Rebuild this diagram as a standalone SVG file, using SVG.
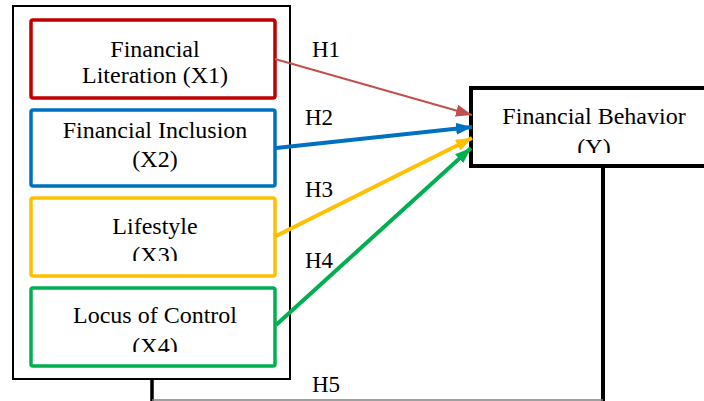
<svg xmlns="http://www.w3.org/2000/svg" width="704" height="401" viewBox="0 0 704 401">
<style>
  .t { font-family: "Liberation Serif", "Times New Roman", serif; font-size: 24px; fill: #000; text-anchor: middle; }
  .h { font-family: "Liberation Serif", "Times New Roman", serif; font-size: 23px; fill: #000; }
  .box { fill: #fff; stroke-width: 3.5; }
</style>
<defs>
  <marker id="mR" markerUnits="userSpaceOnUse" viewBox="0 0 16 12" refX="16" refY="6" markerWidth="16" markerHeight="12" orient="auto"><path d="M0,0 L16,6 L0,12 Z" fill="#C0504D"/></marker>
  <marker id="mB" markerUnits="userSpaceOnUse" viewBox="0 0 16 12" refX="16" refY="6" markerWidth="16" markerHeight="12" orient="auto"><path d="M0,0 L16,6 L0,12 Z" fill="#0070C0"/></marker>
  <marker id="mY" markerUnits="userSpaceOnUse" viewBox="0 0 16 12" refX="16" refY="6" markerWidth="16" markerHeight="12" orient="auto"><path d="M0,0 L16,6 L0,12 Z" fill="#FFC000"/></marker>
  <marker id="mG" markerUnits="userSpaceOnUse" viewBox="0 0 16 12" refX="16" refY="6" markerWidth="16" markerHeight="12" orient="auto"><path d="M0,0 L16,6 L0,12 Z" fill="#00B050"/></marker>
  <clipPath id="c3"><rect x="31" y="197" width="244" height="64"/></clipPath>
  <clipPath id="c4"><rect x="31" y="288" width="244" height="64"/></clipPath>
  <clipPath id="cY"><rect x="471" y="88" width="240" height="65"/></clipPath>
</defs>

<g id="outer">
  <rect x="13" y="6" width="277" height="373" fill="#fff" stroke="#000" stroke-width="2"/>
</g>

<g id="x1">
  <rect class="box" x="31" y="20" width="244" height="78" rx="2" stroke="#C00000"/>
  <text class="t" x="155" y="57">Financial</text>
  <text class="t" x="155" y="83">Literation (X1)</text>
</g>
<g id="x2">
  <rect class="box" x="31" y="110" width="244" height="76" rx="2" stroke="#0070C0"/>
  <text class="t" x="155" y="138">Financial Inclusion</text>
  <text class="t" x="155" y="167">(X2)</text>
</g>
<g id="x3">
  <rect class="box" x="31" y="198" width="244" height="78" rx="2" stroke="#FFC000"/>
  <g clip-path="url(#c3)">
    <text class="t" x="155" y="234">Lifestyle</text>
    <text class="t" x="155" y="263">(X3)</text>
  </g>
</g>
<g id="x4">
  <rect class="box" x="31" y="288" width="244" height="78" rx="2" stroke="#00B050"/>
  <g clip-path="url(#c4)">
    <text class="t" x="155" y="323">Locus of Control</text>
    <text class="t" x="155" y="354">(X4)</text>
  </g>
</g>
<g id="y">
  <rect x="471" y="88" width="240" height="78" fill="#fff" stroke="#000" stroke-width="4"/>
  <g clip-path="url(#cY)">
    <text class="t" x="594" y="124">Financial Behavior</text>
    <text class="t" x="594" y="155">(Y)</text>
  </g>
</g>

<g id="connectors">
  <line x1="275" y1="59" x2="472" y2="115" stroke="#C0504D" stroke-width="2" marker-end="url(#mR)"/>
  <line x1="276" y1="148" x2="472" y2="127" stroke="#0070C0" stroke-width="4" marker-end="url(#mB)"/>
  <line x1="276" y1="236" x2="472" y2="138" stroke="#FFC000" stroke-width="4" marker-end="url(#mY)"/>
  <line x1="276" y1="325" x2="471" y2="148" stroke="#00B050" stroke-width="4" marker-end="url(#mG)"/>
  <line x1="603" y1="166" x2="603" y2="401" stroke="#000" stroke-width="4"/>
  <line x1="152" y1="379" x2="152" y2="401" stroke="#000" stroke-width="3.5"/>
  <line x1="152" y1="400" x2="603" y2="400" stroke="#808080" stroke-width="1.5"/>
  <text class="h" x="312" y="57">H1</text>
  <text class="h" x="305" y="125">H2</text>
  <text class="h" x="305" y="197">H3</text>
  <text class="h" x="305" y="268">H4</text>
  <text class="h" x="312" y="392">H5</text>
</g>
</svg>
